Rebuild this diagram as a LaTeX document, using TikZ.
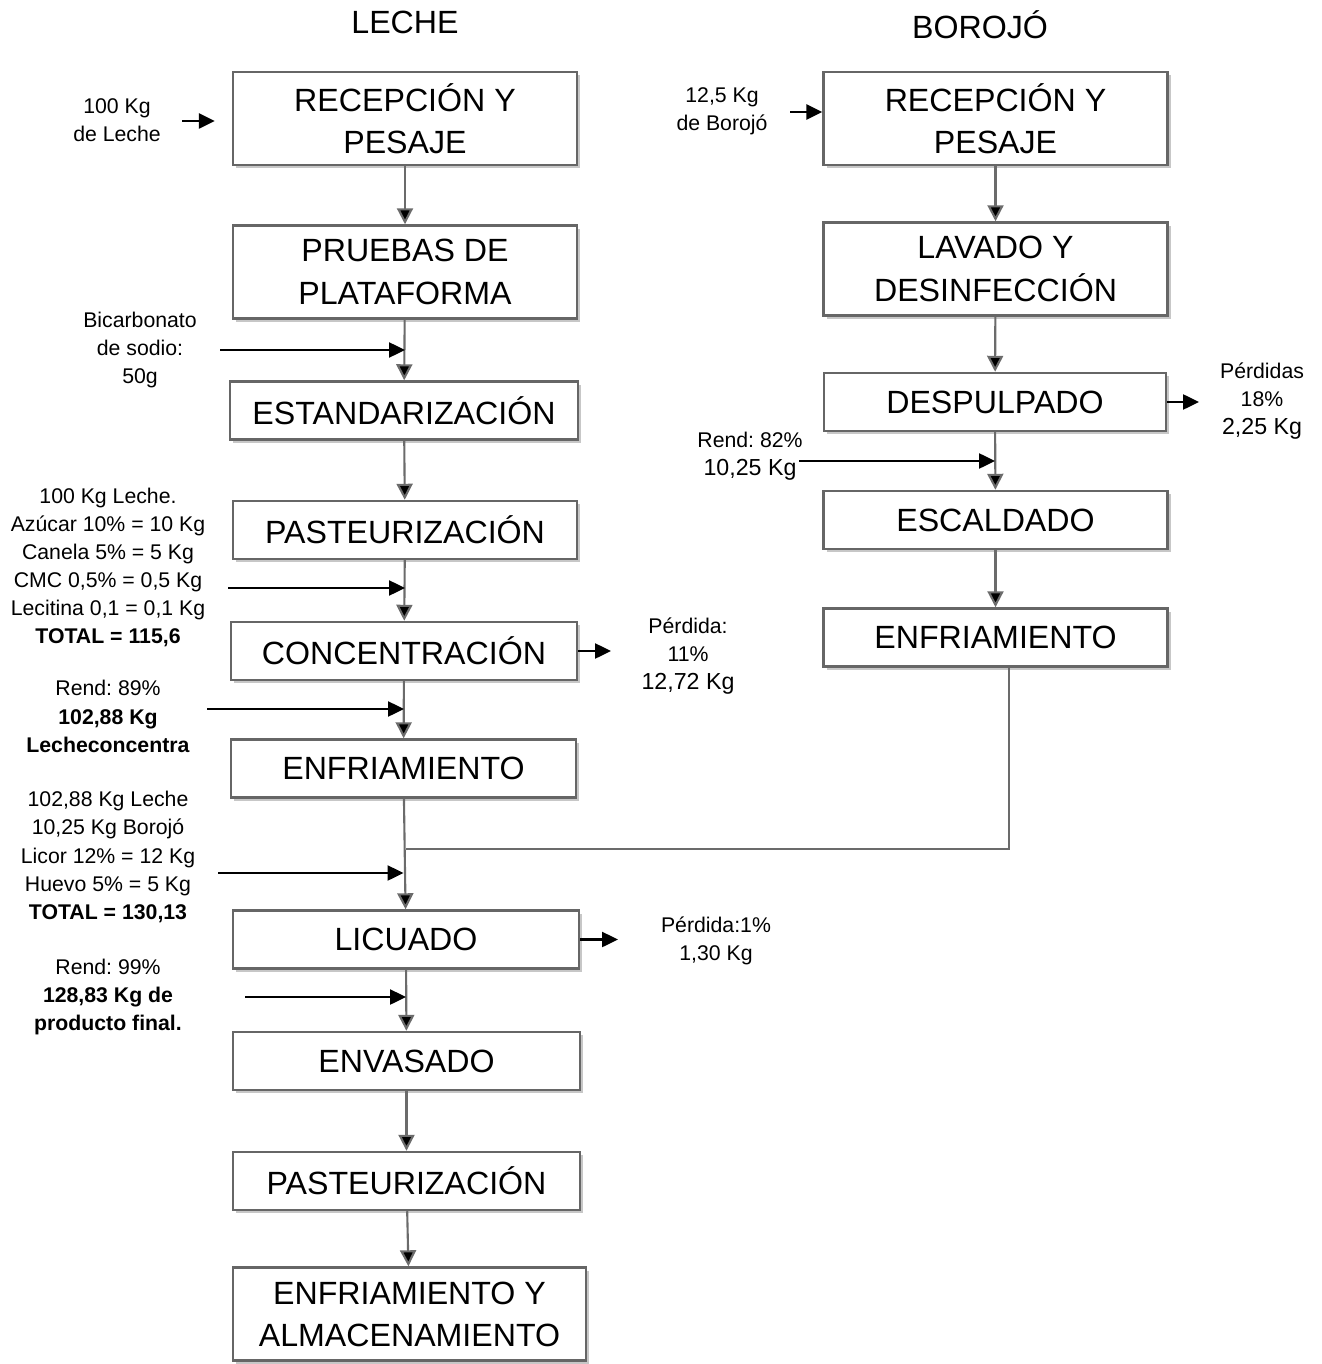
\documentclass[tikz,border=0pt]{standalone}
\usepackage{fontspec}
\setmainfont{Liberation Sans}
\usetikzlibrary{arrows.meta,shadows}
\frenchspacing

\newcommand{\boxfont}{\fontsize{18.3}{24}\selectfont}
\newcommand{\notefont}{\fontsize{12.1}{16}\selectfont}
\newcommand{\kgfont}{\fontsize{13.2}{17}\selectfont}
\colorlet{framegray}{black!60}
\colorlet{linegray}{black!58}

\begin{document}
\begin{tikzpicture}[x=0.02cm,y=-0.02cm,
  proc/.style={draw=framegray,line width=1.4pt,fill=white,align=center,font=\boxfont,
    minimum width=6.88cm,minimum height=1.16cm,
    drop shadow={shadow xshift=1.8pt,shadow yshift=-1.8pt,fill=black!22,opacity=1}},
  tall/.style={minimum height=1.86cm},
  note/.style={align=center,font=\notefont,inner sep=0pt},
  flow/.style={-{Triangle[length=0.32cm,width=0.32cm]},draw=linegray,line width=1.2pt},
  link/.style={draw=linegray,line width=1.2pt},
  feed/.style={-{Triangle[length=0.32cm,width=0.3cm]},line width=1.4pt,black}]
  \useasboundingbox (0,0) rectangle (1321,1364);

  \node[font=\boxfont] (leche) at (405,22) {LECHE};
  \node[font=\boxfont] (borojo) at (980,25) {BOROJÓ};

  % leche
  \node[proc,tall] (l1) at (405,118.5) {RECEPCIÓN Y\\PESAJE};
  \node[proc,tall] (l2) at (405,272) {PRUEBAS DE\\PLATAFORMA};
  \node[proc,minimum width=6.96cm] (l3) at (404,410.5) {ESTANDARIZACIÓN};
  \node[proc] (l4) at (405,530) {PASTEURIZACIÓN};
  \node[proc,minimum width=6.92cm] (l5) at (404,651) {CONCENTRACIÓN};
  \node[proc,minimum width=6.9cm] (l6) at (403.5,768.5) {ENFRIAMIENTO};
  \node[proc,minimum width=6.92cm] (l7) at (406,939.5) {LICUADO};
  \node[proc,minimum width=6.94cm] (l8) at (406.5,1061) {ENVASADO};
  \node[proc,minimum width=6.94cm] (l9) at (406.5,1181) {PASTEURIZACIÓN};
  \node[proc,tall,minimum width=7.06cm] (l10) at (409.5,1314) {ENFRIAMIENTO Y\\ALMACENAMIENTO};

  % borojo
  \node[proc,tall] (r1) at (995.5,118.5) {RECEPCIÓN Y\\PESAJE};
  \node[proc,tall] (r2) at (995.5,269) {LAVADO Y\\DESINFECCIÓN};
  \node[proc,minimum width=6.84cm] (r3) at (995,402) {DESPULPADO};
  \node[proc] (r4) at (995.5,520) {ESCALDADO};
  \node[proc] (r5) at (995.5,637.5) {ENFRIAMIENTO};

  % entradas y salidas
  \node[note] (in1) at (117,120) {100 Kg\\de Leche};
  \node[note] (in2) at (722,111) {12,5 Kg\\de Borojó};
  \node[note] (bicarb) at (140,350) {Bicarbonato\\de sodio:\\50g};
  \node[note] (mix1) at (108,567.5) {100 Kg Leche.\\Azúcar 10\% = 10 Kg\\Canela 5\% = 5 Kg\\CMC 0,5\% = 0,5 Kg\\Lecitina 0,1 = 0,1 Kg\\\textbf{TOTAL = 115,6}};
  \node[note] (rend1) at (108,716.5) {Rend: 89\%\\\textbf{102,88 Kg}\\\textbf{Lecheconcentra}};
  \node[note] (mix2) at (108,857) {102,88 Kg Leche\\10,25 Kg Borojó\\Licor 12\% = 12 Kg\\Huevo 5\% = 5 Kg\\\textbf{TOTAL = 130,13}};
  \node[note] (rend2) at (108,997) {Rend: 99\%\\\textbf{128,83 Kg de}\\\textbf{producto final.}};
  \node[note] (rend3) at (750,456) {Rend: 82\%\\{\kgfont 10,25 Kg}};
  \node[note] (loss1) at (1262,401) {Pérdidas\\18\%\\{\kgfont 2,25 Kg}};
  \node[note] (loss2) at (688,656) {Pérdida:\\11\%\\{\kgfont 12,72 Kg}};
  \node[note] (loss3) at (716,940.5) {Pérdida:1\%\\1,30 Kg};

  \path[flow]
    (l1) edge (l2)
    (l2) edge (l3)
    (l3) edge (l4)
    (l4) edge (l5)
    (l5) edge (l6)
    (l6) edge (l7)
    (l7) edge (l8)
    (l8) edge (l9)
    (l9) edge (l10)
    (r1) edge (r2)
    (r2) edge (r3)
    (r3) edge (r4)
    (r4) edge (r5);

  \coordinate (join) at (406,849);
  \draw[link] ([xshift=0.27cm]r5.south) |- (join);

  \coordinate (f1) at (182,121);
  \coordinate (f2) at (790,112);
  \coordinate (f3) at (220,350);
  \coordinate (f4) at (228,588);
  \coordinate (f5) at (207,709);
  \coordinate (f6) at (218,873);
  \coordinate (f7) at (245,997);
  \coordinate (f8) at (799,461);
  \draw[feed] (f1) -- ([xshift=-0.34cm]f1 -| l1.west);
  \draw[feed] (f2) -- (f2 -| r1.west);
  \draw[feed] (f3) -- (f3 -| l2.south);
  \draw[feed] (f4) -- (f4 -| l4.south);
  \draw[feed] (f5) -- (f5 -| l5.south);
  \draw[feed] (f6) -- (f6 -| l6.south);
  \draw[feed] (f7) -- (f7 -| l7.south);
  \draw[feed] (f8) -- (f8 -| r3.south);

  \coordinate (o1) at (1199,402);
  \coordinate (o2) at (611,651);
  \coordinate (o3) at (618,939.5);
  \draw[feed] (r3.east) -- (o1);
  \draw[feed] (l5.east) -- (o2);
  \draw[feed] (l7.east) -- (o3);
\end{tikzpicture}
\end{document}
